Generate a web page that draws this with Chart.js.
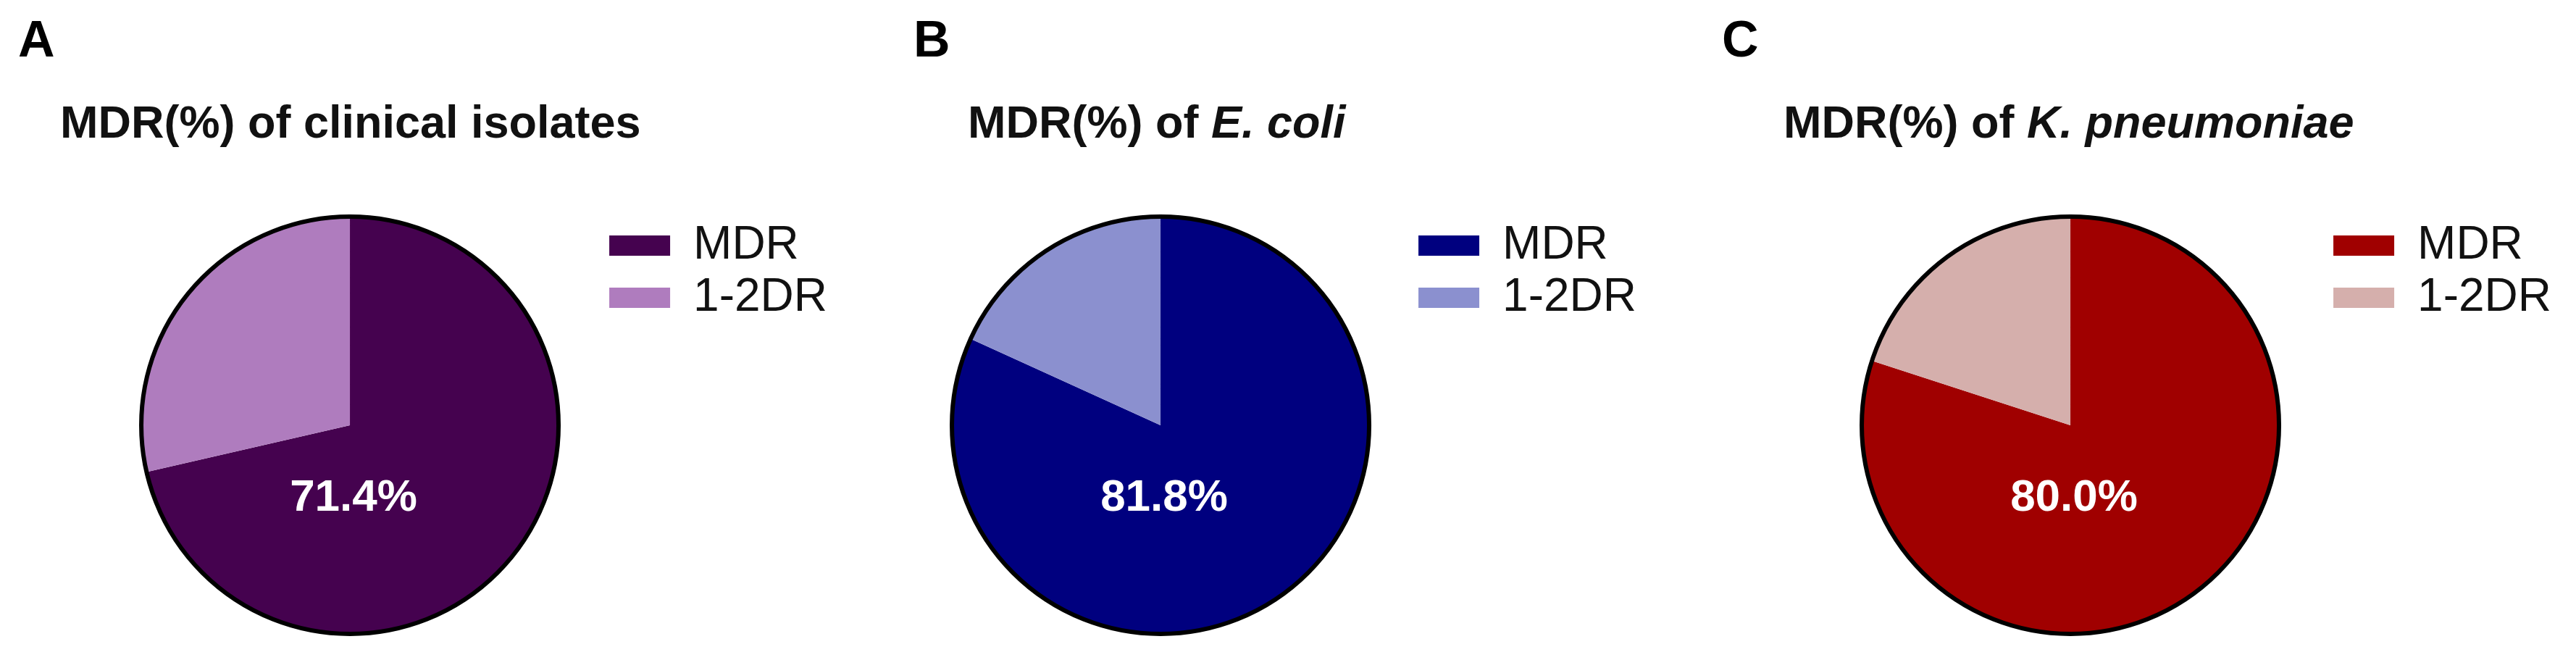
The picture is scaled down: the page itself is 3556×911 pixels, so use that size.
<!DOCTYPE html>
<html>
<head>
<meta charset="utf-8">
<script src="https://cdn.jsdelivr.net/npm/chart.js@4.4.0/dist/chart.umd.min.js"></script>
<style>
    body {
        margin: 0;
        width: 3556px;
        height: 911px;
        background: #fff;
        overflow: hidden;
        position: relative;
        font-family: 'Liberation Sans', Arial, sans-serif;
    }
    .panel-letter {
        position: absolute;
        font-weight: bold;
        font-size: 70px;
        line-height: 70px;
        color: #000;
    }
    .panel-title {
        position: absolute;
        font-weight: bold;
        font-size: 63px;
        line-height: 63px;
        color: #111;
        white-space: nowrap;
    }
    canvas {
        position: absolute;
    }
</style>
</head>
<body>

<div class="panel-letter" style="left:25px; top:19px;">A</div>
<div class="panel-letter" style="left:1261px; top:19px;">B</div>
<div class="panel-letter" style="left:2377px; top:19px;">C</div>

<div class="panel-title" style="left:83px; top:137px;">MDR(%) of clinical isolates</div>
<div class="panel-title" style="left:1336px; top:137px;">MDR(%) of <i>E. coli</i></div>
<div class="panel-title" style="left:2462px; top:137px;">MDR(%) of <i>K. pneumoniae</i></div>

<canvas id="chartA" width="1049" height="596" style="left:123px; top:289px;"></canvas>
<canvas id="chartB" width="1045" height="596" style="left:1244px; top:289px;"></canvas>
<canvas id="chartC" width="1049" height="596" style="left:2493px; top:289px;"></canvas>

<script>
// Dữ liệu
const categories = ['MDR', '1-2DR']
const clinicalValues = [71.4, 28.6]
const ecoliValues = [81.8, 18.2]
const kpneumoniaeValues = [80.0, 20.0]

// Màu
const clinicalColors = ['#45024F', '#AF7CBE']
const ecoliColors = ['#00007F', '#8B90CF']
const kpneumoniaeColors = ['#A00000', '#D5AFAC']

// Viền tròn bên ngoài + nhãn phần trăm MDR
const pieOutline = {
    id: 'pieOutline',
    afterDatasetsDraw(chart) {
        const ctx = chart.ctx
        const arc = chart.getDatasetMeta(0).data[0]
        const { x, y, outerRadius } = arc.getProps(['x', 'y', 'outerRadius'], true)

        ctx.save()
        ctx.beginPath()
        ctx.arc(x, y, outerRadius, 0, Math.PI * 2)
        ctx.lineWidth = 6
        ctx.strokeStyle = '#000'
        ctx.stroke()

        const value = chart.data.datasets[0].data[0]
        ctx.fillStyle = '#fff'
        ctx.font = 'bold 62px "Liberation Sans", Arial, sans-serif'
        ctx.textAlign = 'center'
        ctx.textBaseline = 'middle'
        ctx.fillText(value.toFixed(1) + '%', x + 5, y + outerRadius * 0.35)
        ctx.restore()
    }
}

function makePie(id, values, colors, padRight) {
    new Chart(document.getElementById(id), {
        type: 'pie',
        data: {
            labels: categories,
            datasets: [{
                data: values,
                backgroundColor: colors,
                borderWidth: 0,
                radius: 288
            }]
        },
        options: {
            responsive: false,
            animation: false,
            devicePixelRatio: 1,
            layout: {
                padding: { top: 10, bottom: 10, left: 10, right: padRight }
            },
            plugins: {
                tooltip: { enabled: false },
                legend: {
                    position: 'right',
                    align: 'start',
                    labels: {
                        boxWidth: 84,
                        boxHeight: 28,
                        padding: 8,
                        color: '#111',
                        font: { family: "'Liberation Sans', Arial, sans-serif", size: 64 }
                    }
                }
            }
        },
        plugins: [pieOutline]
    })
}

makePie('chartA', clinicalValues, clinicalColors, 20)
makePie('chartB', ecoliValues, ecoliColors, 20)
makePie('chartC', kpneumoniaeValues, kpneumoniaeColors, 10)
</script>
</body>
</html>
